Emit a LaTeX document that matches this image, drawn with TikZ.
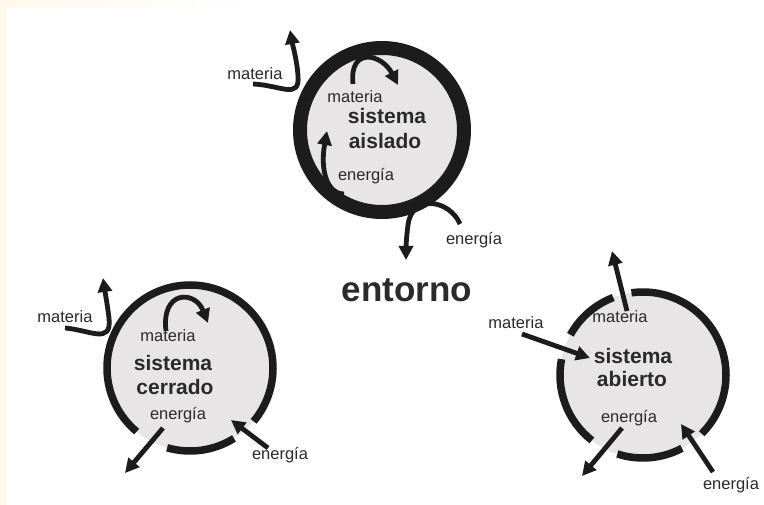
\documentclass[tikz,border=0pt]{standalone}
\usepackage{fontspec}
\setmainfont{Liberation Sans}
\usetikzlibrary{arrows.meta}
\definecolor{ringc}{HTML}{1C1C1C}
\definecolor{fillc}{HTML}{E7E5E5}
\definecolor{txtc}{HTML}{2A2A2A}
\definecolor{creamc}{HTML}{FFF9EC}
\begin{document}
\begin{tikzpicture}[x=1pt,y=-1pt,
  ringline/.style={draw=ringc, line width=#1},
  disc/.style={circle, fill=fillc, inner sep=0pt, minimum size=#1},
  flow/.style={draw=ringc, line width=4.8pt, -{Triangle[length=14pt,width=14pt]}},
  lbl/.style={font=\fontsize{16.5}{18}\selectfont, text=txtc, inner sep=0pt, anchor=base},
  sys/.style={font=\bfseries\fontsize{21}{23}\selectfont, text=txtc, inner sep=0pt, anchor=base},
  big/.style={font=\bfseries\fontsize{35}{38}\selectfont, text=txtc, inner sep=0pt, anchor=base}]
% background
\fill[white] (0,0) rectangle (764,505);
\useasboundingbox (0,0) rectangle (764,505);
\fill[left color=creamc, right color=white] (0,0) rectangle (260,8);
\fill[creamc] (0,0) rectangle (7,505);

% ===== sistema aislado =====
\node[disc=164pt] (tC) at (382,130) {};
\draw[ringline=14pt] (tC.center) circle[radius=82];
\node[lbl] (tMatOut) at (255,80) {materia};
\node[lbl] (tMatIn) at (355,103) {materia};
\node[sys] (tSys1) at (387,124) {sistema};
\node[sys] (tSys2) at (385,149) {aislado};
\node[lbl] (tEnIn) at (366,181) {energía};
\node[lbl] (tEnOut) at (474,245) {energía};
\coordinate (tMoA) at (253,84); \coordinate (tMoB) at (290,30);
\coordinate (tMiA) at (353,84); \coordinate (tMiB) at (398,85);
\coordinate (tEiA) at (344,194); \coordinate (tEiB) at (327,131);
\coordinate (tEoA) at (460,224); \coordinate (tEoB) at (406,260);
\draw[flow] (tMoA) .. controls (280,85) and (300,100) .. (298,76) .. controls (297,60) and (293,47) .. (tMoB);
\draw[flow] (tMiA) .. controls (349,46) and (382,54) .. (tMiB);
\draw[flow] (tEiA) .. controls (327,194) and (320,170) .. (tEiB);
\draw[flow] (tEoA) .. controls (450,200) and (412,193) .. (408,225) .. controls (406,240) and (406,250) .. (tEoB);

\node[big] (ent) at (407,302) {entorno};

% ===== sistema cerrado =====
\node[disc=166pt] (cC) at (190,368) {};
\draw[ringline=7.5pt] (cC.center) ++(40:83) arc[start angle=40, end angle=-230, radius=83];
\draw[ringline=7.5pt] (cC.center) ++(-254:83) arc[start angle=-254, end angle=-302, radius=83];
\node[lbl] (cMatOut) at (65,323) {materia};
\node[lbl] (cMatIn) at (168,342) {materia};
\node[sys] (cSys1) at (173,371) {sistema};
\node[sys] (cSys2) at (175,395) {cerrado};
\node[lbl] (cEnIn) at (178,419) {energía};
\node[lbl] (cEnOut) at (280,460) {energía};
\coordinate (cMoA) at (65,328); \coordinate (cMoB) at (103,278);
\coordinate (cMiA) at (166,331); \coordinate (cMiB) at (208,323);
\coordinate (cEoA) at (163,428); \coordinate (cEoB) at (125,473);
\coordinate (cEiA) at (268,448); \coordinate (cEiB) at (231,420);
\draw[flow] (cMoA) .. controls (90,330) and (112,345) .. (109,318) .. controls (107,302) and (105,292) .. (cMoB);
\draw[flow] (cMiA) .. controls (161,290) and (195,290) .. (cMiB);
\draw[flow] (cEoA) -- (cEoB);
\draw[flow] (cEiA) -- (cEiB);

% ===== sistema abierto =====
\node[disc=166pt] (aC) at (643,375) {};
\draw[ringline=7.5pt] (aC.center) ++(45:83) arc[start angle=45, end angle=-98, radius=83];
\draw[ringline=7.5pt] (aC.center) ++(-111:83) arc[start angle=-111, end angle=-151, radius=83];
\draw[ringline=7.5pt] (aC.center) ++(-169:83) arc[start angle=-169, end angle=-232, radius=83];
\draw[ringline=7.5pt] (aC.center) ++(-252:83) arc[start angle=-252, end angle=-298, radius=83];
\node[lbl] (aMatOut) at (516,329) {materia};
\node[lbl] (aMatIn) at (620,323) {materia};
\node[sys] (aSys1) at (633,363) {sistema};
\node[sys] (aSys2) at (632,387) {abierto};
\node[lbl] (aEnIn) at (629,423) {energía};
\node[lbl] (aEnOut) at (731,489) {energía};
\coordinate (aMiA) at (522,334); \coordinate (aMiB) at (590,358);
\coordinate (aMoA) at (627,311); \coordinate (aMoB) at (612,251);
\coordinate (aEoA) at (622,428); \coordinate (aEoB) at (582,476);
\coordinate (aEiA) at (713,472); \coordinate (aEiB) at (681,424);
\draw[flow] (aMiA) -- (aMiB);
\draw[flow] (aMoA) -- (aMoB);
\draw[flow] (aEoA) -- (aEoB);
\draw[flow] (aEiA) -- (aEiB);
\end{tikzpicture}
\end{document}
